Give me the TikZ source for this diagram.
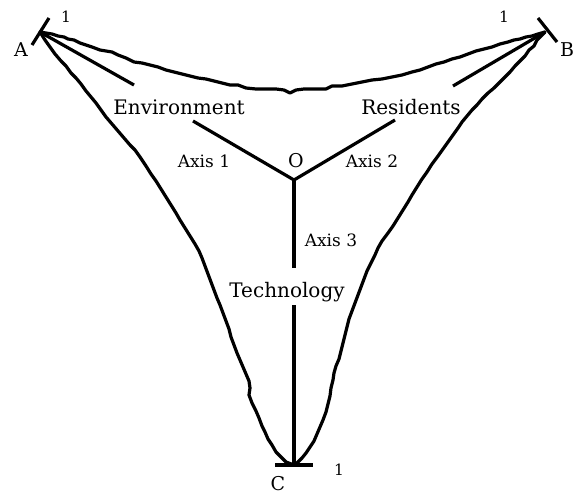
\documentclass[tikz,border=0pt]{standalone}
\usepackage{fontspec}
\setmainfont{DejaVu Serif}
\begin{document}
\begin{tikzpicture}[x=1pt,y=-1pt,
  ln/.style={line width=3.2pt,line join=round,line cap=butt},
  wav/.style={line width=3.2pt,line join=round,line cap=round},
  big/.style={font=\fontsize{20}{24}\selectfont,inner sep=0pt},
  small/.style={font=\fontsize{17}{20}\selectfont,inner sep=0pt},
  vert/.style={font=\fontsize{19}{22}\selectfont,inner sep=0pt},
  one/.style={font=\fontsize{15.5}{18}\selectfont,inner sep=0pt}]
\useasboundingbox (0,0) rectangle (575,495);
% vertices
\coordinate (A) at (40,32);
\coordinate (B) at (545,32);
\coordinate (C) at (294,465);
\coordinate (O) at (294,180);
% tick ends
\coordinate (ta1) at (32,45);
\coordinate (ta2) at (49,18);
\coordinate (tb1) at (538,18);
\coordinate (tb2) at (557,42);
\coordinate (tc1) at (275,465);
\coordinate (tc2) at (313,465);
% axis gap ends
\coordinate (e1) at (134,85);
\coordinate (e2) at (193,121);
\coordinate (r1) at (453,86);
\coordinate (r2) at (395,120);
\coordinate (t1) at (294,268);
\coordinate (t2) at (294,305);
% ticks
\draw[ln] (ta1) -- (ta2);
\draw[ln] (tb1) -- (tb2);
\draw[ln] (tc1) -- (tc2);
% axes
\draw[ln] (A) -- (e1);
\draw[ln] (e2) -- (O);
\draw[ln] (B) -- (r1);
\draw[ln] (r2) -- (O);
\draw[ln] (O) -- (t1);
\draw[ln] (t2) -- (C);
% top wavy curve A-B
\draw[wav] (A) -- (46,33) -- (52,34) -- (58,36) -- (64,37) -- (68,39) -- (74,40) -- (80,43) -- (86,45) -- (92,47) -- (100,50) -- (106,51) -- (112,52) -- (118,55) -- (126,58) -- (134,62) -- (142,63) -- (150,65) -- (158,67) -- (166,70) -- (174,72) -- (182,74) -- (190,76) -- (198,78) -- (206,79) -- (214,81) -- (222,83) -- (230,85) -- (238,85) -- (246,88) -- (256,89) -- (266,89) -- (276,89) -- (284,90) -- (290,93) -- (296,90) -- (304,89) -- (314,89) -- (326,89) -- (332,86) -- (342,86) -- (352,84) -- (362,82) -- (372,80) -- (382,79) -- (392,77) -- (402,75) -- (412,72) -- (420,70) -- (428,67) -- (436,64) -- (444,62) -- (452,59) -- (460,57) -- (468,54) -- (476,51) -- (484,49) -- (492,47) -- (500,44) -- (508,42) -- (514,40) -- (520,39) -- (526,37) -- (532,36) -- (538,34) -- (B);
% left wavy curve A-C
\draw[wav] (A) -- (45,40) -- (50,47) -- (55,54) -- (61,61) -- (66,66) -- (71,73) -- (76,78) -- (81,84) -- (86,91) -- (91,97) -- (96,103) -- (101,110) -- (106,117) -- (112,124) -- (118,131) -- (124,138) -- (130,145) -- (135,150) -- (140,157) -- (146,166) -- (151,174) -- (156,181) -- (161,189) -- (166,197) -- (171,205) -- (176,213) -- (180,220) -- (185,228) -- (190,236) -- (195,244) -- (199,251) -- (202,258) -- (205,266) -- (208,274) -- (211,282) -- (214,290) -- (217,298) -- (220,305) -- (223,313) -- (226,321) -- (229,329) -- (231,337) -- (234,345) -- (237,353) -- (240,360) -- (243,367) -- (246,374) -- (249,381) -- (250,388) -- (249,395) -- (252,403) -- (256,411) -- (259,418) -- (262,426) -- (265,432) -- (268,439) -- (272,445) -- (276,452) -- (280,456) -- (283,459) -- (286,462) -- (C);
% right wavy curve B-C
\draw[wav] (B) -- (541,36) -- (537,40) -- (534,46) -- (529,50) -- (525,56) -- (520,61) -- (515,66) -- (510,72) -- (505,77) -- (500,82) -- (494,88) -- (488,93) -- (482,99) -- (477,105) -- (472,110) -- (467,116) -- (462,122) -- (458,128) -- (453,135) -- (448,142) -- (443,149) -- (438,156) -- (432,164) -- (427,172) -- (422,179) -- (417,187) -- (412,195) -- (408,202) -- (403,210) -- (398,218) -- (393,226) -- (388,233) -- (382,241) -- (378,248) -- (375,255) -- (371,263) -- (367,271) -- (364,279) -- (361,287) -- (358,295) -- (355,303) -- (352,311) -- (349,319) -- (347,327) -- (345,335) -- (343,343) -- (341,351) -- (339,359) -- (336,366) -- (334,373) -- (333,380) -- (331,388) -- (330,396) -- (328,404) -- (326,412) -- (323,420) -- (320,427) -- (317,434) -- (314,441) -- (310,447) -- (306,453) -- (302,458) -- (299,461) -- (296,464) -- (C);
% labels
\node[big] (env) at (179,107) {Environment};
\node[big] (res) at (411,107) {Residents};
\node[big] (tech) at (287,292) {Technology};
\node[small] (ax1) at (204,161) {Axis 1};
\node[small] (ax2) at (372,161) {Axis 2};
\node[small] (ax3) at (331,240) {Axis 3};
\node[vert] (olab) at (296,161) {O};
\node[vert] (alab) at (21,50) {A};
\node[vert] (blab) at (567,50) {B};
\node[vert] (clab) at (278,484) {C};
\node[one] (oa) at (66,17) {1};
\node[one] (ob) at (504,17) {1};
\node[one] (oc) at (339,470) {1};
\end{tikzpicture}
\end{document}
